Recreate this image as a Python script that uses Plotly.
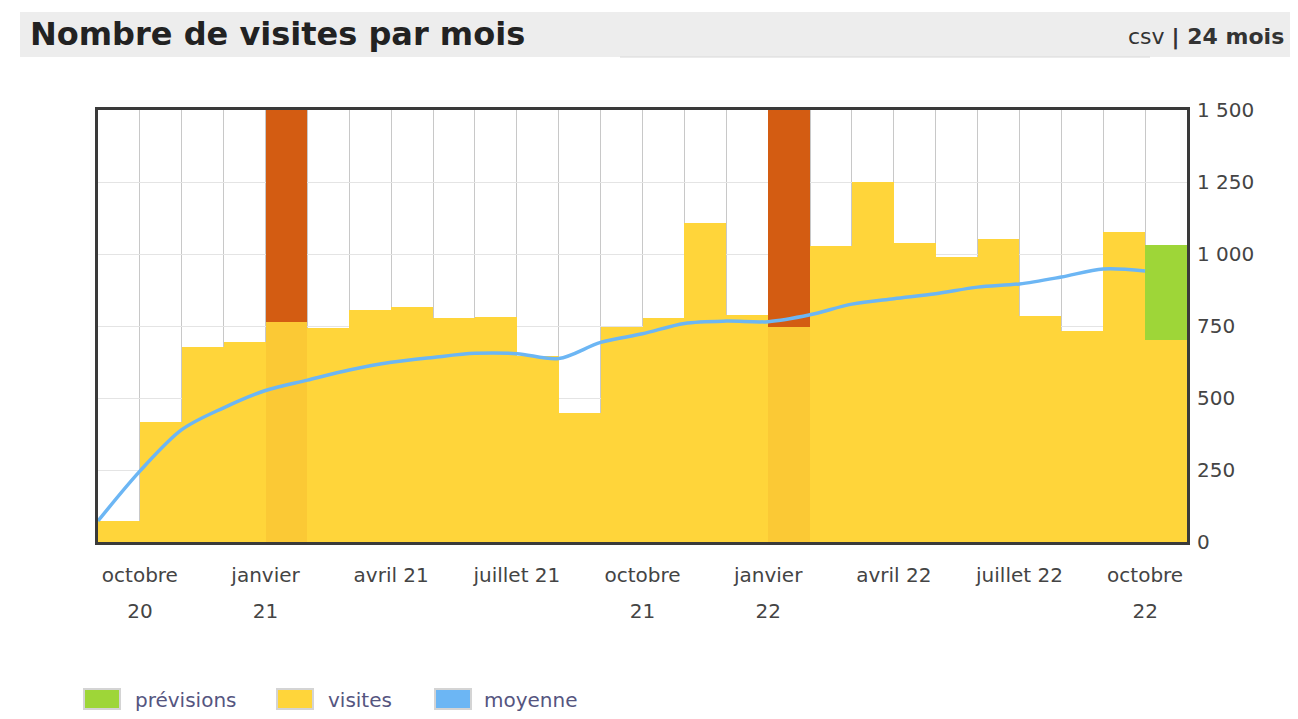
import plotly.graph_objects as go

# ---------------- data ----------------
mois = ["sept. 20", "oct. 20", "nov. 20", "déc. 20", "janv. 21", "févr. 21",
        "mars 21", "avr. 21", "mai 21", "juin 21", "juil. 21", "août 21",
        "sept. 21", "oct. 21", "nov. 21", "déc. 21", "janv. 22", "févr. 22",
        "mars 22", "avr. 22", "mai 22", "juin 22", "juil. 22", "août 22",
        "sept. 22", "oct. 22"]
visites = [73, 418, 678, 695, 765, 743, 806, 817, 777, 782, 645, 448,
           747, 777, 1107, 788, 747, 1028, 1251, 1038, 990, 1052, 785, 734,
           1077, 700]
previsions = [None] * 25 + [1031]
surlignage = [None, None, None, None, 1500, None, None, None, None, None, None, None,
              None, None, None, None, 1500, None, None, None, None, None, None, None,
              None, None]
moyenne = [73, 246, 390, 466, 526, 562, 597, 624, 641, 655, 654, 637,
           693, 723, 759, 767, 765, 789, 826, 845, 862, 885, 896, 920,
           948, 941]
tick_pos = [1, 4, 7, 10, 13, 16, 19, 22, 25]
tick_labels = ["octobre<br>20", "janvier<br>21", "avril 21", "juillet 21",
               "octobre<br>21", "janvier<br>22", "avril 22", "juillet 22",
               "octobre<br>22"]
legend_items = ["prévisions", "visites", "moyenne"]

# ---------------- layout geometry ----------------
# the page body has an 8px margin; coordinates below are page pixels
BODY = 8
W, H = 1298 - 2 * BODY, 719 - 2 * BODY
L, R, T, B = 98, 1187, 110, 542
PW, PH = R - L, B - T


def px_x(px):
    return (px - L) / PW


def px_y(py):
    return (B - py) / PH


YELLOW = "rgb(255,213,58)"
ORANGE = "rgb(211,92,18)"
GREEN = "rgb(158,214,56)"
BLUE = "rgb(108,182,244)"
TICK_SIZE = 20

n = len(mois)
bar_x = [i + 0.5 for i in range(n)]
line_x = list(range(n))
visit_opacity = [0.9 if s is not None else 1.0 for s in surlignage]


def small(t):
    return "<br>".join(f'<span style="font-size:{TICK_SIZE}px">{p}</span>' for p in t.split("<br>"))


fig = go.Figure()
fig.add_trace(go.Bar(x=bar_x, y=surlignage, width=1, marker=dict(color=ORANGE, line_width=0),
                     name="", hoverinfo="skip", showlegend=False))
fig.add_trace(go.Bar(x=bar_x, y=previsions, width=1, marker=dict(color=GREEN, line_width=0),
                     name="prévisions", customdata=mois, hovertemplate="%{customdata}: %{y}<extra></extra>",
                     showlegend=False))
fig.add_trace(go.Bar(x=bar_x, y=visites, width=1,
                     marker=dict(color=YELLOW, line_width=0, opacity=visit_opacity),
                     name="visites", customdata=mois, hovertemplate="%{customdata}: %{y}<extra></extra>",
                     showlegend=False))
fig.add_trace(go.Scatter(x=line_x, y=moyenne, mode="lines",
                         line=dict(color=BLUE, width=3.5, shape="spline", smoothing=0.9),
                         name="moyenne", customdata=mois,
                         hovertemplate="%{customdata}: %{y}<extra></extra>",
                         showlegend=False))

shapes = [
    # header band
    dict(type="rect", xref="paper", yref="paper", x0=px_x(20), x1=px_x(1298),
         y0=px_y(57), y1=px_y(12), fillcolor="#ededed", line_width=0, layer="below"),
    dict(type="line", xref="paper", yref="paper", x0=px_x(620), x1=px_x(1150),
         y0=px_y(57), y1=px_y(57), line=dict(color="#d8d8d8", width=1), layer="below"),
]
annotations = [
    dict(xref="paper", yref="paper", x=px_x(1286), y=px_y(37), xanchor="right", yanchor="middle",
         text="csv <b>| 24 mois</b>", showarrow=False,
         font=dict(family="DejaVu Sans", size=22, color="#333333")),
]

# manual legend
legend_colors = [GREEN, YELLOW, BLUE]
box_x = [84, 277, 435]
text_x = [133, 326, 482]
for name, col, bx, tx in zip(legend_items, legend_colors, box_x, text_x):
    shapes.append(dict(type="rect", xref="paper", yref="paper",
                       x0=px_x(bx), x1=px_x(bx + 36), y0=px_y(709), y1=px_y(689),
                       fillcolor=col, line=dict(color="#d4d4d4", width=2)))
    annotations.append(dict(xref="paper", yref="paper", x=px_x(tx), y=px_y(700),
                            xanchor="left", yanchor="middle", text=name, showarrow=False,
                            font=dict(family="DejaVu Sans", size=20, color="#55557f")))

fig.update_layout(
    width=W, height=H, autosize=False,
    margin=dict(l=L - BODY, r=W - (R - BODY), t=T - BODY, b=H - (B - BODY), pad=0),
    paper_bgcolor="white", plot_bgcolor="white",
    barmode="overlay", bargap=0,
    separators=", ",
    title=dict(text="<b>Nombre de visites par mois</b>", x=(30 - BODY) / W, xanchor="left",
               xref="container", y=1 - (34 - BODY) / H, yanchor="middle", yref="container",
               font=dict(family="DejaVu Sans", size=32, color="#222222")),
    xaxis=dict(range=[0, n], tickmode="array", tickvals=tick_pos,
               ticktext=[small(t) for t in tick_labels],
               showgrid=True, gridcolor="#c8c8c8", gridwidth=1,
               minor=dict(tick0=0, dtick=1, showgrid=True, gridcolor="#c8c8c8", gridwidth=1),
               ticks="", ticklabelstandoff=3,
               tickfont=dict(family="DejaVu Sans", size=28, color="#444444"),
               showline=True, mirror=True, linecolor="#3a3a3a", linewidth=3,
               zeroline=False, fixedrange=True),
    yaxis=dict(range=[0, 1500], side="right", tickmode="linear", tick0=0, dtick=250,
               tickformat=",d", showgrid=True, gridcolor="#e4e4e4", gridwidth=1,
               ticks="", ticklabelstandoff=3,
               tickfont=dict(family="DejaVu Sans", size=20, color="#444444"),
               showline=True, mirror=True, linecolor="#3a3a3a", linewidth=3,
               zeroline=False, fixedrange=True),
    shapes=shapes, annotations=annotations,
    showlegend=False,
)

fig.write_html("out.html")
